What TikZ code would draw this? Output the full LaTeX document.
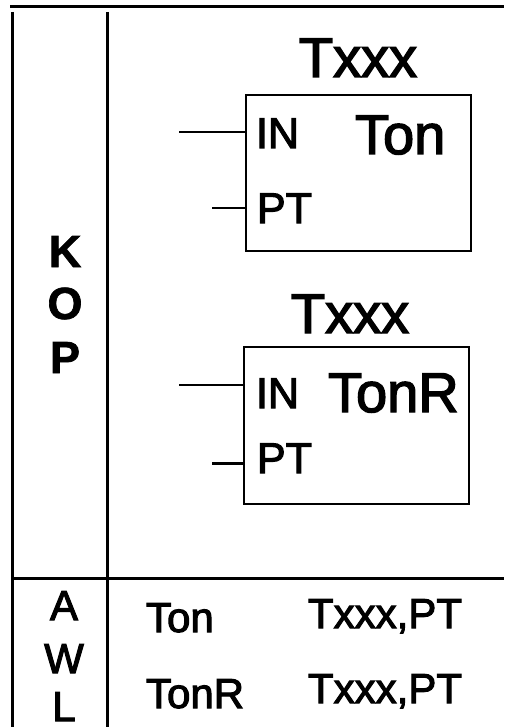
\documentclass[tikz,border=0pt]{standalone}
\usepackage{fontspec}
\setmainfont{Liberation Sans}[FakeBold=2.5]
\newfontfamily\kopfont{Liberation Sans Bold}[FakeBold=1.5]
\begin{document}
\begin{tikzpicture}[x=1pt,y=-1pt,
  frame/.style={line width=3pt},
  boxline/.style={line width=2.6pt},
  lead/.style={line width=2.2pt},
  txt/.style={inner sep=0pt,outer sep=0pt},
  big/.style={txt,font=\fontsize{56}{60}\selectfont},
  mid/.style={txt,font=\fontsize{43}{48}\selectfont},
  side/.style={txt,font=\kopfont\fontsize{45}{50}\selectfont},
  sider/.style={txt,font=\fontsize{42}{48}\selectfont}]
\useasboundingbox (0,0) rectangle (504,727);
% frame
\coordinate (tl) at (10,7);
\coordinate (tr) at (504,7);
\coordinate (v1t) at (12,12);
\coordinate (v1b) at (12,727);
\coordinate (v2t) at (107,12);
\coordinate (v2b) at (107,727);
\coordinate (hl) at (12,578);
\coordinate (hr) at (504,578);
\draw[frame] (tl) -- (tr);
\draw[frame] (v1t) -- (v1b);
\draw[frame] (v2t) -- (v2b);
\draw[frame] (hl) -- (hr);
% box 1
\coordinate (b1a) at (246,95);
\coordinate (b1b) at (471,251);
\draw[boxline] (b1a) rectangle (b1b);
\node[big,anchor=base] (t1) at (358,77) {Txxx};
\node[mid,anchor=base west] (in1) at (256,148) {IN};
\node[big,anchor=base west] (ton1) at (355,154) {Ton};
\node[mid,anchor=base west] (pt1) at (257,223) {PT};
\coordinate (in1s) at (179,132);
\coordinate (in1e) at (246,132);
\coordinate (pt1s) at (212,208);
\coordinate (pt1e) at (246,208);
\draw[lead] (in1s) -- (in1e);
\draw[lead] (pt1s) -- (pt1e);
% box 2
\coordinate (b2a) at (244,347);
\coordinate (b2b) at (469,504);
\draw[boxline] (b2a) rectangle (b2b);
\node[big,anchor=base] (t2) at (350,333) {Txxx};
\node[mid,anchor=base west] (in2) at (256,408) {IN};
\node[big,anchor=base west] (ton2) at (328,412) {TonR};
\node[mid,anchor=base west] (pt2) at (257,473) {PT};
\coordinate (in2s) at (179,385);
\coordinate (in2e) at (244,385);
\coordinate (pt2s) at (212,463);
\coordinate (pt2e) at (244,463);
\draw[lead] (in2s) -- (in2e);
\draw[lead,line width=3pt] (pt2s) -- (pt2e);
% KOP
\node[side,anchor=base] (k) at (65,267) {K};
\node[side,anchor=base] (o) at (65,319) {O};
\node[side,anchor=base] (p) at (65,373) {P};
% AWL
\node[sider,anchor=base] (a) at (64,620) {A};
\node[sider,anchor=base] (w) at (64,673) {W};
\node[sider,anchor=base] (l) at (64,721) {L};
\node[sider,anchor=base west] (r1a) at (146,632) {Ton};
\node[sider,anchor=base west] (r1b) at (308,628) {Txxx,PT};
\node[sider,anchor=base west] (r2a) at (146,708) {TonR};
\node[sider,anchor=base west] (r2b) at (308,703) {Txxx,PT};
\end{tikzpicture}
\end{document}
